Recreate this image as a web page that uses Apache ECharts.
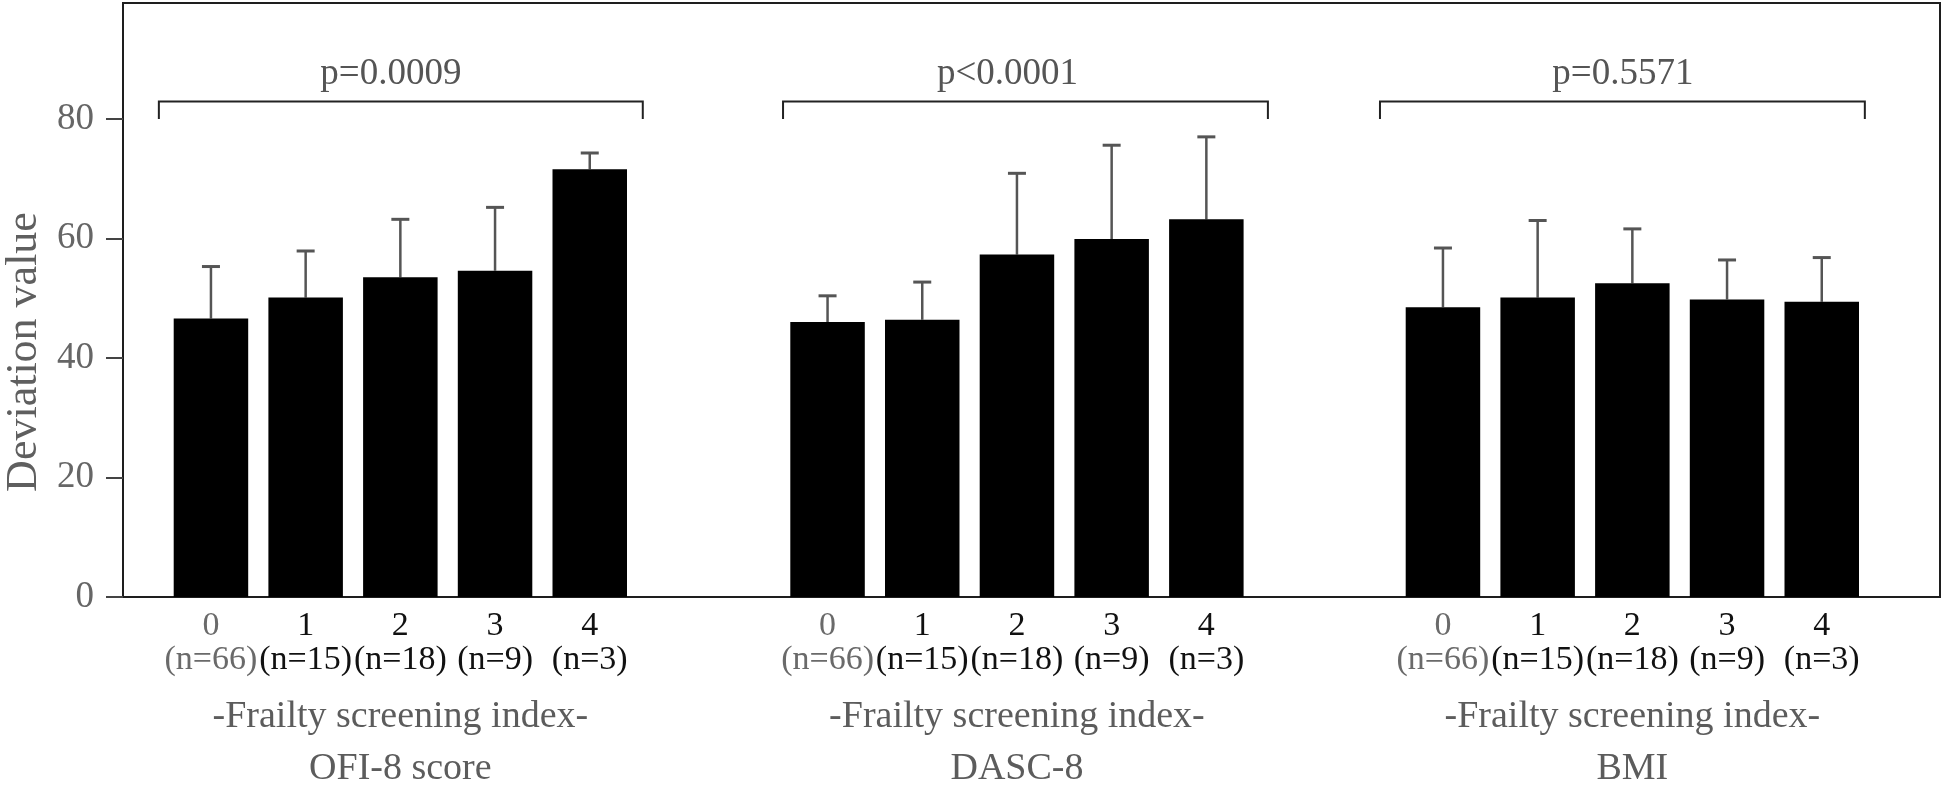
<!DOCTYPE html>
<html><head><meta charset="utf-8">
<script src="https://cdn.jsdelivr.net/npm/echarts@6/dist/echarts.min.js"></script>
<style>html,body{margin:0;padding:0;background:#fff}#c{width:1943px;height:786px}</style>
</head><body><div id="c"></div>
<script>
const categories = ['0', '1', '2', '3', '4'];
const nLabels = ['(n=66)', '(n=15)', '(n=18)', '(n=9)', '(n=3)'];
const panelNames = ['OFI-8 score', 'DASC-8', 'BMI'];
const indexTitle = '-Frailty screening index-';
const pValues = ['p=0.0009', 'p<0.0001', 'p=0.5571'];
const ofiMean = [46.6, 50.1, 53.5, 54.6, 71.6];
const ofiUpper = [55.3, 57.9, 63.2, 65.2, 74.3];
const dascMean = [46.0, 46.4, 57.3, 59.9, 63.2];
const dascUpper = [50.4, 52.7, 70.9, 75.6, 77.0];
const bmiMean = [48.5, 50.1, 52.5, 49.8, 49.4];
const bmiUpper = [58.4, 63.0, 61.6, 56.4, 56.8];
const yTicks = [0, 20, 40, 60, 80];
// bracket spans, in category units of each panel, and its value levels
const bracketStart = [-0.55, -0.47, -0.665];
const bracketEnd = [4.56, 4.65, 4.455];
const pTextPos = [1.9, 1.9, 1.9];
const bracketLow = 80, bracketHigh = 82.9;

const FONT = '"Liberation Serif", "Times New Roman", serif';
const means = [ofiMean, dascMean, bmiMean];
const uppers = [ofiUpper, dascUpper, bmiUpper];
const YMAX = 99.4;
const BAR_W = 74.5;
const panelLefts = [163.6, 780.2, 1395.6];
const PANEL_W = 473.5;

const grids = [{ left: 123, right: 3, top: 3, bottom: 189, show: true, borderColor: '#1e1e1e', borderWidth: 2, backgroundColor: 'transparent', outerBoundsMode: 'none', containLabel: false }];
const xAxes = [{ gridIndex: 0, type: 'value', min: 0, max: 1, show: false }];
const yAxes = [{
  gridIndex: 0, type: 'value', min: 0, max: YMAX,
  name: 'Deviation value', nameLocation: 'middle', nameGap: 77,
  nameTextStyle: { fontFamily: FONT, fontSize: 44, color: '#5f5f5f', padding: [0, 104, 0, 0] },
  axisLine: { show: true, lineStyle: { color: '#1e1e1e', width: 2 } },
  axisTick: { show: true, length: 17, customValues: yTicks, lineStyle: { color: '#444', width: 2 } },
  axisLabel: { customValues: yTicks, fontFamily: FONT, fontSize: 37, color: '#666', margin: 29 },
  splitLine: { show: false }
}];
const series = [];

for (let i = 0; i < 3; i++) {
  const gi = i + 1;
  grids.push({ left: panelLefts[i], width: PANEL_W, top: 3, bottom: 189, outerBoundsMode: 'none', containLabel: false });
  xAxes.push({
    gridIndex: gi, type: 'category', data: categories,
    axisLine: { show: false }, axisTick: { show: false },
    axisLabel: {
      interval: 0, margin: 12,
      formatter: (v, idx) => idx === 0 ? '{g|' + v + '}\n{g|' + nLabels[idx] + '}' : '{b|' + v + '}\n{b|' + nLabels[idx] + '}',
      rich: {
        g: { fontFamily: FONT, fontSize: 34, lineHeight: 34, color: '#6a6a6a' },
        b: { fontFamily: FONT, fontSize: 34, lineHeight: 34, color: '#111' }
      }
    },
    name: indexTitle + '\n' + panelNames[i], nameLocation: 'middle', nameGap: 94,
    nameTextStyle: { fontFamily: FONT, fontSize: 38, lineHeight: 52, color: '#5c5c5c' }
  });
  yAxes.push({ gridIndex: gi, type: 'value', min: 0, max: YMAX, show: false });
  series.push({
    type: 'bar', xAxisIndex: gi, yAxisIndex: gi, data: means[i], barWidth: BAR_W,
    itemStyle: { color: '#000' }, silent: true
  });
  series.push({
    type: 'custom', xAxisIndex: gi, yAxisIndex: gi,
    data: means[i].map((m, k) => [k, m, uppers[i][k]]),
    renderItem: (params, api) => {
      const b = api.coord([api.value(0), api.value(1)]);
      const t = api.coord([api.value(0), api.value(2)]);
      return {
        type: 'group', children: [
          { type: 'line', shape: { x1: b[0], y1: b[1], x2: t[0], y2: t[1] }, style: { stroke: '#555', lineWidth: 2.5 } },
          { type: 'line', shape: { x1: t[0] - 9, y1: t[1], x2: t[0] + 9, y2: t[1] }, style: { stroke: '#555', lineWidth: 3 } }
        ]
      };
    }
  });
  series.push({
    type: 'custom', xAxisIndex: gi, yAxisIndex: gi,
    data: [[0, 1, bracketLow, bracketHigh]],
    renderItem: (params, api) => {
      const c0 = api.coord([api.value(0), api.value(3)]);
      const c1 = api.coord([api.value(1), api.value(3)]);
      const lo = api.coord([api.value(0), api.value(2)])[1];
      const step = c1[0] - c0[0];
      const xs = c0[0] + bracketStart[i] * step;
      const xe = c0[0] + bracketEnd[i] * step;
      const px = c0[0] + pTextPos[i] * step;
      const top = c0[1];
      return {
        type: 'group', children: [
          { type: 'polyline', shape: { points: [[xs, lo], [xs, top], [xe, top], [xe, lo]] }, style: { stroke: '#222', lineWidth: 2, fill: null } },
          { type: 'text', x: px, y: top - 9, style: { text: pValues[i], font: '37px ' + FONT, fill: '#555', align: 'center', verticalAlign: 'bottom' } }
        ]
      };
    }
  });
}

const chart = echarts.init(document.getElementById('c'));
chart.setOption({ animation: false, grid: grids, xAxis: xAxes, yAxis: yAxes, series: series });
</script>
</body></html>
